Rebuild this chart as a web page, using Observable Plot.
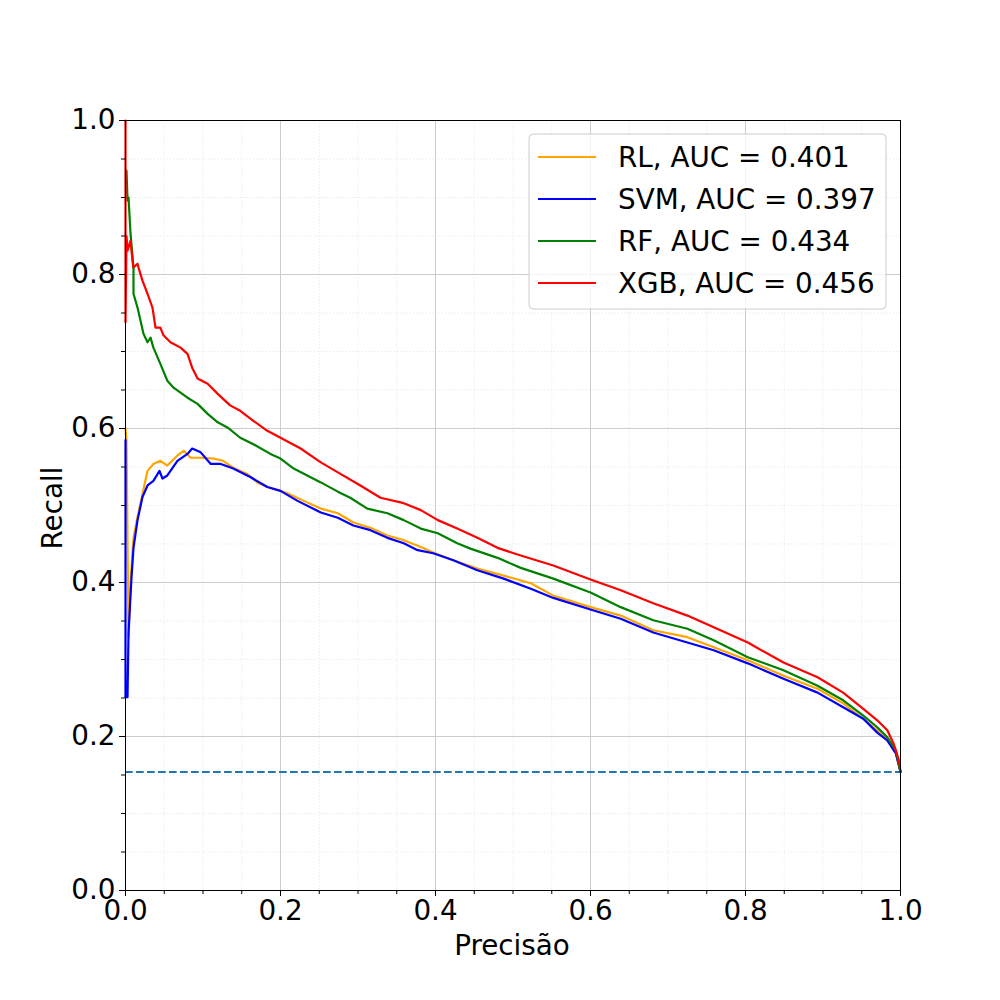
<!DOCTYPE html>
<html>
<head>
<meta charset="utf-8">
<script src="https://cdn.jsdelivr.net/npm/d3@7"></script>
<script src="https://cdn.jsdelivr.net/npm/@observablehq/plot@0.6"></script>
<style>
  body { margin: 0; background: #fff; }
  #chart { position: relative; width: 1000px; height: 1000px; }
  svg text { font-family: "DejaVu Sans", sans-serif; }
</style>
</head>
<body>
<div id="chart"></div>
<script>
// ---- data ----
const models = ["RL", "SVM", "RF", "XGB"];
const aucLabels = ["RL, AUC = 0.401", "SVM, AUC = 0.397", "RF, AUC = 0.434", "XGB, AUC = 0.456"];
const colors = ["orange", "blue", "green", "red"];
const baselineRecall = 0.154;
const majorTicks = [0, 0.2, 0.4, 0.6, 0.8, 1.0];
const minorTicks = [0.05, 0.1, 0.15, 0.25, 0.3, 0.35, 0.45, 0.5, 0.55, 0.65, 0.7, 0.75, 0.85, 0.9, 0.95];

const rlX = [0, 0.0013, 0.0039, 0.0065, 0.0103, 0.0155, 0.0219, 0.0284, 0.036, 0.045, 0.054, 0.067, 0.075, 0.084, 0.097, 0.114, 0.126, 0.139, 0.157, 0.170, 0.183, 0.2, 0.209, 0.230, 0.252, 0.274, 0.294, 0.316, 0.338, 0.359, 0.381, 0.397, 0.423, 0.454, 0.488, 0.523, 0.552, 0.6, 0.639, 0.681, 0.725, 0.759, 0.803, 0.849, 0.893, 0.926, 0.952, 0.970, 0.983, 0.994, 1.0];
const rlY = [0.600, 0.584, 0.329, 0.399, 0.458, 0.485, 0.515, 0.545, 0.554, 0.558, 0.552, 0.565, 0.571, 0.562, 0.562, 0.561, 0.558, 0.549, 0.541, 0.530, 0.524, 0.519, 0.516, 0.506, 0.496, 0.490, 0.478, 0.471, 0.461, 0.455, 0.446, 0.439, 0.429, 0.418, 0.409, 0.399, 0.383, 0.368, 0.357, 0.338, 0.329, 0.316, 0.299, 0.279, 0.262, 0.243, 0.223, 0.208, 0.195, 0.178, 0.154];

const svmX = [0, 0, 0.0026, 0.0039, 0.0077, 0.0103, 0.0155, 0.0219, 0.0284, 0.036, 0.0439, 0.0477, 0.054, 0.067, 0.080, 0.086, 0.097, 0.110, 0.123, 0.139, 0.161, 0.183, 0.2, 0.222, 0.252, 0.274, 0.294, 0.316, 0.338, 0.359, 0.377, 0.397, 0.423, 0.454, 0.488, 0.523, 0.552, 0.6, 0.639, 0.681, 0.725, 0.759, 0.803, 0.849, 0.893, 0.926, 0.952, 0.970, 0.983, 0.994, 1.0];
const svmY = [0.585, 0.251, 0.251, 0.334, 0.406, 0.445, 0.481, 0.511, 0.526, 0.532, 0.545, 0.535, 0.539, 0.558, 0.567, 0.574, 0.569, 0.554, 0.554, 0.548, 0.537, 0.524, 0.519, 0.506, 0.491, 0.484, 0.474, 0.468, 0.458, 0.451, 0.442, 0.438, 0.429, 0.416, 0.405, 0.392, 0.380, 0.365, 0.353, 0.335, 0.322, 0.312, 0.295, 0.275, 0.257, 0.238, 0.223, 0.205, 0.195, 0.178, 0.154];

const rfX = [0.0013, 0.0026, 0.0039, 0.0065, 0.0103, 0.0103, 0.0155, 0.0194, 0.0232, 0.0284, 0.0323, 0.036, 0.045, 0.054, 0.062, 0.080, 0.093, 0.106, 0.119, 0.132, 0.148, 0.168, 0.187, 0.2, 0.217, 0.252, 0.274, 0.290, 0.312, 0.338, 0.359, 0.381, 0.403, 0.428, 0.445, 0.480, 0.510, 0.552, 0.6, 0.639, 0.681, 0.725, 0.759, 0.803, 0.849, 0.893, 0.926, 0.952, 0.970, 0.983, 0.994, 1.0];
const rfY = [0.935, 0.896, 0.900, 0.853, 0.809, 0.775, 0.757, 0.740, 0.723, 0.712, 0.718, 0.705, 0.684, 0.662, 0.653, 0.640, 0.632, 0.619, 0.608, 0.601, 0.588, 0.578, 0.567, 0.561, 0.548, 0.530, 0.518, 0.510, 0.496, 0.490, 0.481, 0.470, 0.464, 0.451, 0.444, 0.432, 0.419, 0.405, 0.387, 0.368, 0.351, 0.340, 0.325, 0.303, 0.286, 0.266, 0.247, 0.227, 0.212, 0.199, 0.182, 0.154];

const xgbX = [0, 0, 0.0013, 0.0026, 0.0065, 0.0090, 0.0103, 0.0155, 0.0168, 0.0219, 0.0284, 0.0348, 0.0387, 0.045, 0.049, 0.058, 0.071, 0.080, 0.086, 0.093, 0.106, 0.119, 0.135, 0.148, 0.165, 0.183, 0.2, 0.226, 0.252, 0.274, 0.303, 0.329, 0.359, 0.381, 0.403, 0.428, 0.454, 0.480, 0.510, 0.552, 0.6, 0.639, 0.681, 0.725, 0.759, 0.803, 0.849, 0.893, 0.926, 0.952, 0.970, 0.983, 0.991, 0.998, 1.0];
const xgbY = [1.0, 0.738, 0.850, 0.831, 0.844, 0.818, 0.809, 0.814, 0.809, 0.792, 0.775, 0.757, 0.731, 0.731, 0.721, 0.712, 0.705, 0.697, 0.679, 0.665, 0.658, 0.645, 0.630, 0.623, 0.610, 0.597, 0.588, 0.574, 0.556, 0.543, 0.526, 0.510, 0.503, 0.494, 0.481, 0.470, 0.458, 0.445, 0.435, 0.422, 0.404, 0.390, 0.373, 0.357, 0.342, 0.322, 0.296, 0.277, 0.257, 0.236, 0.221, 0.208, 0.191, 0.169, 0.154];

const xTitle = "Precisão";
const yTitle = "Recall";

// ---- build table ----
const series = [[rlX, rlY], [svmX, svmY], [rfX, rfY], [xgbX, xgbY]];
const rows = [];
series.forEach(([xs, ys], i) => xs.forEach((x, j) => rows.push({model: models[i], x, y: ys[j]})));

const fmt = d => d.toFixed(1);
const fontPx = 27.8;

const plot = Plot.plot({
  width: 1000,
  height: 1000,
  marginLeft: 125,
  marginRight: 100,
  marginTop: 120,
  marginBottom: 110,
  style: {fontFamily: "DejaVu Sans", background: "white", color: "black", overflow: "visible"},
  x: {domain: [0, 1]},
  y: {domain: [0, 1]},
  color: {domain: models, range: colors},
  marks: [
    Plot.gridX(minorTicks, {stroke: "#e3e3e3", strokeOpacity: 1, strokeWidth: 0.8, strokeDasharray: "1.2,2"}),
    Plot.gridY(minorTicks, {stroke: "#e3e3e3", strokeOpacity: 1, strokeWidth: 0.8, strokeDasharray: "1.2,2"}),
    Plot.gridX(majorTicks, {stroke: "#cccccc", strokeOpacity: 1, strokeWidth: 1}),
    Plot.gridY(majorTicks, {stroke: "#cccccc", strokeOpacity: 1, strokeWidth: 1}),
    Plot.ruleY([baselineRecall], {stroke: "#1f77b4", strokeWidth: 2, strokeDasharray: "7.7,3.3"}),
    Plot.line(rows, {x: "x", y: "y", z: "model", stroke: "model", strokeWidth: 2.2, curve: "linear"}),
    Plot.frame({stroke: "black", strokeWidth: 1}),
    Plot.axisX(minorTicks, {tickSize: 4, tickFormat: () => "", label: null, stroke: "black"}),
    Plot.axisY(minorTicks, {tickSize: 4, tickFormat: () => "", label: null, stroke: "black"}),
    Plot.axisX(majorTicks, {tickSize: 6, tickPadding: 4, fontSize: fontPx, tickFormat: fmt, label: null, stroke: "black", fill: "black"}),
    Plot.axisY(majorTicks, {tickSize: 6, tickPadding: 4, fontSize: fontPx, tickFormat: fmt, label: null, stroke: "black", fill: "black"})
  ]
});

document.getElementById("chart").appendChild(plot);

// ---- axis titles and legend ----
const svg = d3.select(plot);
svg.append("text")
  .attr("x", 512).attr("y", 945)
  .attr("text-anchor", "middle").attr("dy", "0.35em")
  .attr("font-size", fontPx).attr("fill", "black")
  .text(xTitle);
svg.append("text")
  .attr("transform", "translate(52,508) rotate(-90)")
  .attr("text-anchor", "middle").attr("dy", "0.35em")
  .attr("font-size", fontPx).attr("fill", "black")
  .text(yTitle);

const lg = svg.append("g").attr("text-anchor", "start");
lg.append("rect")
  .attr("x", 529).attr("y", 134).attr("width", 357).attr("height", 175)
  .attr("rx", 4).attr("fill", "white").attr("fill-opacity", 0.8)
  .attr("stroke", "#cccccc").attr("stroke-width", 1);
const rowY = [157, 199, 241, 283];
aucLabels.forEach((lab, i) => {
  lg.append("line")
    .attr("x1", 538).attr("x2", 596).attr("y1", rowY[i]).attr("y2", rowY[i])
    .attr("stroke", colors[i]).attr("stroke-width", 2);
  lg.append("text")
    .attr("x", 618).attr("y", rowY[i]).attr("dy", "0.35em")
    .attr("text-anchor", "start")
    .attr("font-size", fontPx).attr("fill", "black")
    .text(lab);
});
</script>
</body>
</html>
